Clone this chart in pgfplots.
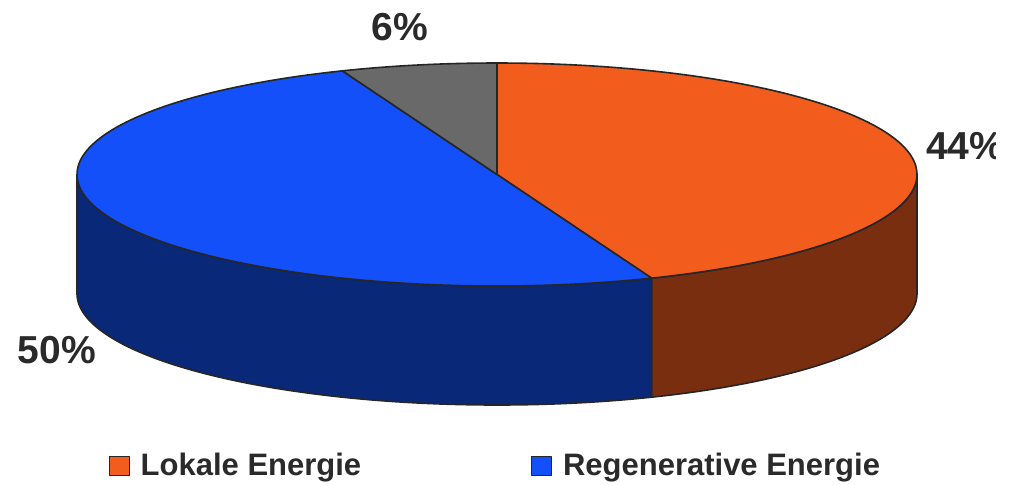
\documentclass[border=0pt]{standalone}
\usepackage{pgfplots}
\usepackage{pgfplotstable}
\pgfplotsset{compat=1.18}
\usepackage{fontspec}
\setmainfont{Liberation Sans}
\definecolor{orangeTop}{HTML}{F25C1C}
\definecolor{orangeSide}{HTML}{7A2E10}
\definecolor{blueTop}{HTML}{1450FA}
\definecolor{blueSide}{HTML}{0A2878}
\definecolor{grayTop}{HTML}{696969}
\definecolor{outline}{HTML}{262626}
\definecolor{txt}{HTML}{2A2A2A}

\pgfplotstableread{
label value
Lokale 44
Regenerative 50
Sonstige 6
}\piedata

\begin{document}%
\begin{tikzpicture}
\pgfplotstablegetelem{0}{value}\of\piedata \pgfmathsetmacro{\va}{\pgfplotsretval}
\pgfplotstablegetelem{1}{value}\of\piedata \pgfmathsetmacro{\vb}{\pgfplotsretval}
\pgfplotstablegetelem{2}{value}\of\piedata \pgfmathsetmacro{\vc}{\pgfplotsretval}
\pgfmathsetmacro{\tot}{\va+\vb+\vc}
\pgfmathsetmacro{\angA}{\va/\tot*360}
\pgfmathsetmacro{\angB}{(\va+\vb)/\tot*360}
\begin{axis}[
  name=ax,
  anchor=south west, at={(0,0)},
  width=509pt, height=242pt, scale only axis,
  xmin=0, xmax=1018, ymin=0, ymax=484, y dir=reverse,
  hide axis, clip=false,
  declare function={
    cx=497; cy=174.5; rx=420; ry=111.5; dep=119;
    angS(\t,\a,\b)=\a+(\b-\a)*(min(\t,1)-max(\t-2,0));
    dzS(\t)=dep*min(max(\t-1,0),1);
    angT(\t,\a,\b)=\a+(\b-\a)*min(\t,1);
    rT(\t)=1-max(\t-1,0);
  },
  legend columns=2,
  legend style={at={(axis cs:496.5,466)}, anchor=center, draw=none, fill=none,
    font=\fontsize{15.5}{18}\selectfont\bfseries\color{txt},
    /tikz/every even column/.append style={column sep=83pt}},
  legend image code/.code={\draw[#1] (0pt,-4.9pt) rectangle (9.8pt,4.9pt); \path (13.3pt,0pt);},
  every axis plot/.append style={line width=0.8pt, line join=round},
]
% side walls
\addplot[forget plot, fill=orangeSide, draw=outline, domain=0:3, samples=361, variable=\t]
  ({cx+rx*sin(angS(t,90,\angA))},{cy-ry*cos(angS(t,90,\angA))+dzS(t)}) -- cycle;
\addplot[forget plot, fill=blueSide, draw=outline, domain=0:3, samples=361, variable=\t]
  ({cx+rx*sin(angS(t,\angA,270))},{cy-ry*cos(angS(t,\angA,270))+dzS(t)}) -- cycle;
% top wedges
\addplot[forget plot, fill=orangeTop, draw=outline, domain=0:2, samples=241, variable=\t]
  ({cx+rx*rT(t)*sin(angT(t,0,\angA))},{cy-ry*rT(t)*cos(angT(t,0,\angA))}) -- cycle;
\addplot[forget plot, fill=blueTop, draw=outline, domain=0:2, samples=241, variable=\t]
  ({cx+rx*rT(t)*sin(angT(t,\angA,\angB))},{cy-ry*rT(t)*cos(angT(t,\angA,\angB))}) -- cycle;
\addplot[forget plot, fill=grayTop, draw=outline, domain=0:2, samples=241, variable=\t]
  ({cx+rx*rT(t)*sin(angT(t,\angB,360))},{cy-ry*rT(t)*cos(angT(t,\angB,360))}) -- cycle;
% labels
\node[font=\fontsize{19.5}{23}\selectfont\bfseries, text=txt] at (axis cs:400,27) {6\%};
\begin{scope}
\clip (axis cs:0,0) rectangle (axis cs:995,484);
\node[font=\fontsize{19.5}{23}\selectfont\bfseries, text=txt, anchor=west] at (axis cs:919,146) {44\%};
\end{scope}
\node[font=\fontsize{19.5}{23}\selectfont\bfseries, text=txt] at (axis cs:57,350) {50\%};
% legend
\addlegendimage{fill=orangeTop, draw=outline, line width=0.6pt}
\addlegendentry{Lokale Energie}
\addlegendimage{fill=blueTop, draw=outline, line width=0.6pt}
\addlegendentry{Regenerative Energie}
\coordinate (bl) at (rel axis cs:0,0);
\coordinate (tr) at (rel axis cs:1,1);
\end{axis}
\pgfresetboundingbox
\path[use as bounding box] (bl) rectangle (tr);
\end{tikzpicture}%
\end{document}
